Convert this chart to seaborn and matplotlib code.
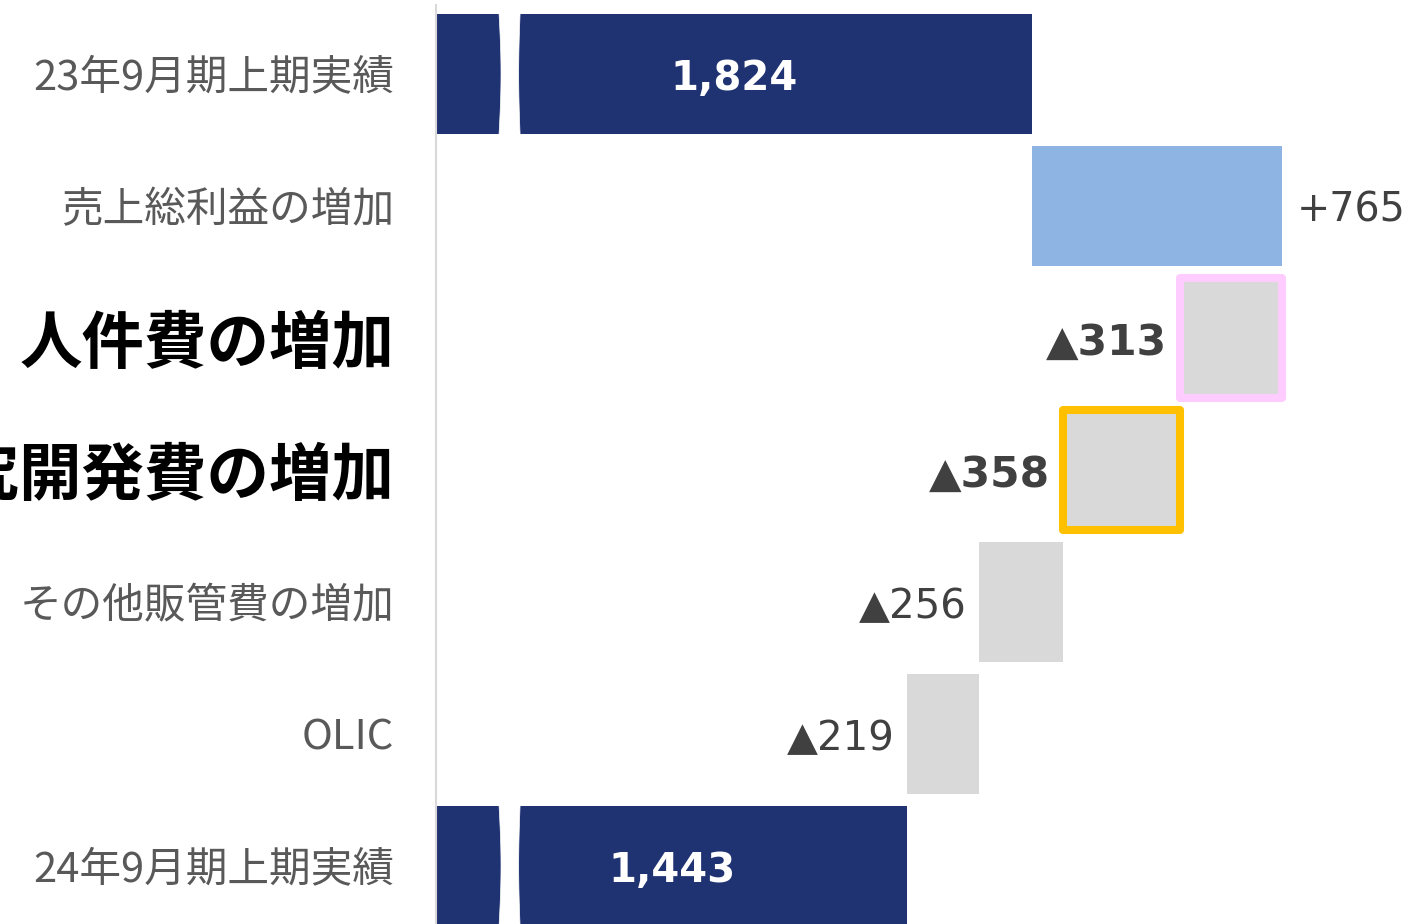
"""Waterfall chart: operating profit bridge (23/9 H1 -> 24/9 H1)."""
import matplotlib

matplotlib.use("Agg")
import matplotlib.pyplot as plt
import numpy as np
import pandas as pd
import seaborn as sns
from matplotlib.patches import Polygon

# ------------------------------------------------------------------ #
# Data
# ------------------------------------------------------------------ #
categories = [
    "23年9月期上期実績",
    "売上総利益の増加",
    "人件費の増加",
    "研究開発費の増加",
    "その他販管費の増加",
    "OLIC",
    "24年9月期上期実績",
]
start_total = 1824
deltas = [765, -313, -358, -256, -219]
end_total = 1443
highlight = ["人件費の増加", "研究開発費の増加"]

# ------------------------------------------------------------------ #
# Build bar geometry from data
# ------------------------------------------------------------------ #
kinds = ["total"] + ["delta"] * len(deltas) + ["total"]
values = [start_total] + deltas + [end_total]
lefts, widths = [], []
running = 0
for kind, v in zip(kinds, values):
    if kind == "total":
        lefts.append(0)
        widths.append(v)
        running = v
    else:
        lo = running if v > 0 else running + v
        lefts.append(lo)
        widths.append(abs(v))
        running += v
df = pd.DataFrame({"label": categories, "kind": kinds, "value": values,
                   "left": lefts, "width": widths})
df["pos"] = np.arange(len(df))

NAVY = "#1F3373"
BLUE = "#8EB4E3"
GREY = "#D9D9D9"
TEXT = "#404040"
borders = {"人件費の増加": "#FFCCFF", "研究開発費の増加": "#FFC000"}

sns.set_theme(style="white")
plt.rcParams["font.family"] = ["DejaVu Sans"]

fig = plt.figure(figsize=(14.11, 9.24), dpi=100)
ax = fig.add_axes([436 / 1411, 0, 1 - 436 / 1411, 1])

bar_h = 0.91
dy = -3.5  # nudge value labels down a little (points)
for _, r in df.iterrows():
    if r["kind"] == "total":
        color = NAVY
    elif r["value"] > 0:
        color = BLUE
    else:
        color = GREY
    ax.barh(r["pos"], r["width"], left=r["left"], height=bar_h, color=color,
            edgecolor="none", zorder=2)
    if r["label"] in borders:
        ax.barh(r["pos"], r["width"], left=r["left"], height=bar_h, fill=False,
                edgecolor=borders[r["label"]], linewidth=5.8,
                joinstyle="round", zorder=3)

    # wavy "axis break" gap on the total bars
    if r["kind"] == "total":
        t = np.linspace(0, 1, 40)
        ys = r["pos"] - 0.5 + t * 1.0
        xl = 192 + 7 * np.sin(np.pi * t)
        xr = 258 - 5 * np.sin(np.pi * t)
        poly = np.column_stack([np.r_[xl, xr[::-1]], np.r_[ys, ys[::-1]]])
        ax.add_patch(Polygon(poly, closed=True, facecolor="white",
                             edgecolor="white", linewidth=0.5, zorder=4))

    # value labels
    if r["kind"] == "total":
        ax.annotate(f"{r['value']:,}", (r["left"] + r["width"] / 2, r["pos"]),
                    xytext=(0, dy), textcoords="offset points",
                    color="white", fontsize=29, fontweight="bold",
                    ha="center", va="center", zorder=5)
    elif r["value"] > 0:
        ax.annotate(f"+{r['value']:,}", (r["left"] + r["width"], r["pos"]),
                    xytext=(11, dy), textcoords="offset points",
                    ha="left", va="center", fontsize=28.5, color=TEXT)
    else:
        bold = r["label"] in highlight
        ax.annotate(f"▲{abs(r['value']):,}", (r["left"], r["pos"]),
                    xytext=(-9, dy), textcoords="offset points",
                    ha="right", va="center", fontsize=30.5 if bold else 29,
                    fontweight="bold" if bold else "normal", color=TEXT)

ax.set_xlim(0, 2984)
ax.set_ylim(6.44, -0.56)
ax.set_xticks([])
ax.set_yticks(df["pos"])
ax.set_yticklabels(df["label"])
ax.tick_params(axis="y", length=0, pad=30)
for lab in ax.get_yticklabels():
    lab.set_family(["Noto Sans CJK JP", "DejaVu Sans"])
    if lab.get_text() in highlight:
        lab.set_fontsize(45)
        lab.set_fontweight("bold")
        lab.set_color("black")
    else:
        lab.set_fontsize(30)
        lab.set_color("#595959")

for side in ["top", "right", "bottom"]:
    ax.spines[side].set_visible(False)
ax.spines["left"].set_color(GREY)
ax.spines["left"].set_linewidth(1.5)
ax.spines["left"].set_bounds(-0.52, 6.44)

fig.savefig("out.png", dpi=100, facecolor="white")
